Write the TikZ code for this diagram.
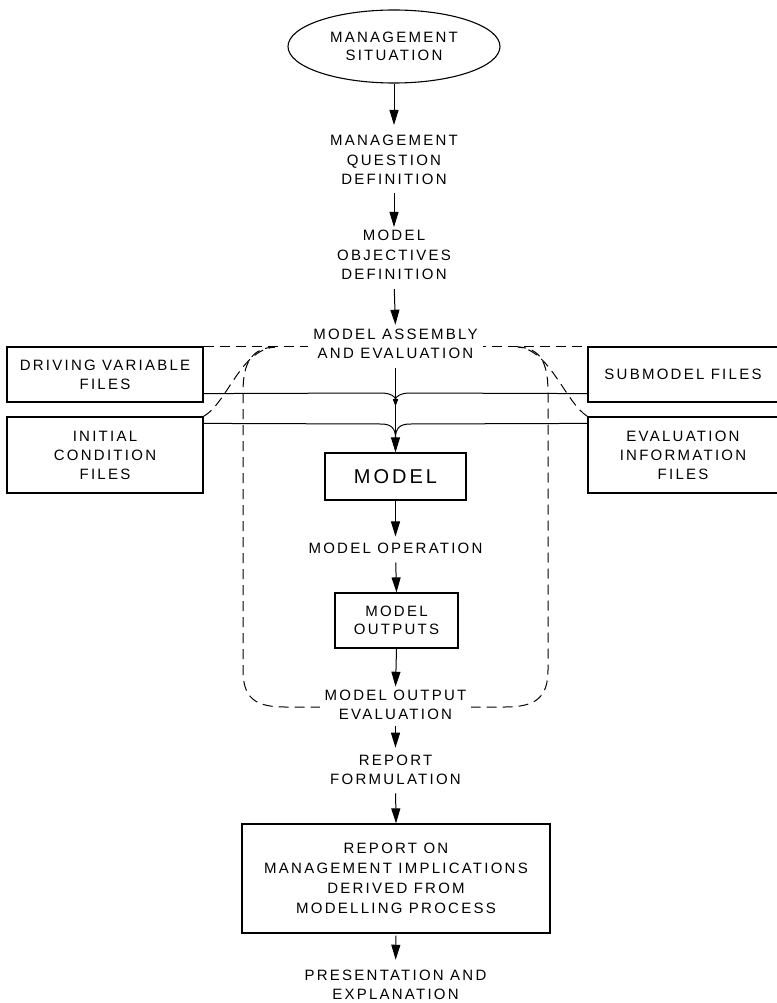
\documentclass[tikz,border=0pt]{standalone}
\usepackage{fontspec}
\setmainfont{Liberation Sans}[LetterSpace=15]
\usetikzlibrary{arrows.meta,shapes.geometric}
\pgfdeclarelayer{bg}
\pgfsetlayers{bg,main}
\tikzset{
  lbl/.style={align=center, inner sep=0pt, font=\fontsize{15}{19.5}\selectfont},
  filebox/.style={draw, line width=1.2pt, align=center, inner sep=0pt, font=\fontsize{15}{19}\selectfont},
  ell/.style={draw, ellipse, line width=1.1pt, align=center, inner sep=0pt, font=\fontsize{15}{18}\selectfont},
  arr/.style={line width=1pt, -{Triangle[length=15pt,width=9pt]}},
  feed/.style={line width=1pt},
  smalltip/.style={-{Triangle[length=7pt,width=5pt]}},
  dsh/.style={line width=1pt, dash pattern=on 10pt off 6pt},
}
\begin{document}
\begin{tikzpicture}[x=1pt,y=-1pt]
\useasboundingbox (0,0) rectangle (776,1003);
\node[ell, minimum width=212pt, minimum height=73pt] (sit) at (394,46.5) {MANAGEMENT\\SITUATION};
\node[lbl] (mq) at (394,160) {MANAGEMENT\\QUESTION\\DEFINITION};
\node[lbl] (mo) at (394,255) {MODEL\\OBJECTIVES\\DEFINITION};
\node[lbl, fill=white, inner xsep=5pt] (asm) at (395.5,344) {MODEL ASSEMBLY\\AND EVALUATION};
\node[filebox, minimum width=196pt, minimum height=55pt] (drv) at (105,374.5) {DRIVING VARIABLE\\FILES};
\node[filebox, minimum width=196pt, minimum height=76pt] (ini) at (105,455) {INITIAL\\CONDITION\\FILES};
\node[filebox, minimum width=190pt, minimum height=55pt] (sub) at (683,374.5) {SUBMODEL FILES};
\node[filebox, minimum width=190pt, minimum height=76pt] (evf) at (683,455) {EVALUATION\\INFORMATION\\FILES};
\node[filebox, minimum width=141pt, minimum height=47pt, font=\fontsize{20}{22}\selectfont] (mdl) at (395.5,476.5) {MODEL};
\node[lbl] (op) at (395.5,548) {MODEL OPERATION};
\node[filebox, minimum width=123pt, minimum height=55pt, font=\fontsize{15}{18}\selectfont] (out) at (396.5,620.5) {MODEL\\OUTPUTS};
\node[lbl, fill=white, inner xsep=5pt] (moe) at (395.5,705) {MODEL OUTPUT\\EVALUATION};
\node[lbl] (rf) at (395.5,770) {REPORT\\FORMULATION};
\node[filebox, minimum width=308pt, minimum height=109pt, font=\fontsize{15}{20}\selectfont] (rep) at (396,878.5) {REPORT ON\\MANAGEMENT IMPLICATIONS\\DERIVED FROM\\MODELLING PROCESS};
\node[lbl] (pe) at (395.5,985) {PRESENTATION AND\\EXPLANATION};

\coordinate (j1) at (395.5,406);
\coordinate (j2) at (395.5,438);

% main flow
\draw[arr, shorten >=10pt] (sit.south) -- (mq.north);
\draw[arr, shorten <=8pt, shorten >=3pt] (mq.south) -- (mo.north);
\draw[arr, shorten <=9pt, shorten >=4pt] (mo.south) -- (asm.north);
\draw[arr, shorten <=9pt] (asm.south) -- (mdl.north);
\draw[arr, shorten >=6pt] (mdl.south) -- (op.north);
\draw[arr, shorten <=9pt] (op.south) -- (out.north);
\draw[arr, shorten >=3pt] (out.south) -- (moe.north);
\draw[arr, shorten <=6pt, shorten >=7pt] (moe.south) -- (rf.north);
\draw[arr, shorten <=8pt] (rf.south) -- (rep.north);
\draw[arr, shorten <=2pt, shorten >=10pt] (rep.south) -- (pe.north);

% feed lines
\draw[feed, smalltip] ([yshift=9pt]drv.south east) -- (381,393) .. controls (391,393) and (395.5,397) .. (j1);
\draw[feed, smalltip] ([yshift=9pt]sub.south west) -- (410,393) .. controls (400,393) and (395.5,397) .. (j1);
\draw[feed] ([yshift=-7pt]ini.north east) -- (381,424) .. controls (391,424) and (395.5,428) .. (j2);
\draw[feed] ([yshift=-7pt]evf.north west) -- (410,424) .. controls (400,424) and (395.5,428) .. (j2);

% dashed boundaries
\begin{pgfonlayer}{bg}
\draw[dsh] (drv.north east) -- (sub.north west);
\draw[dsh] (ini.north east) .. controls (228,402) and (240,350) .. (275,347);
\draw[dsh] (evf.north west) .. controls (565,402) and (550,350) .. (518,347);
\draw[dsh] (275,347) .. controls (252,348) and (243,362) .. (243,392) -- (243,670)
  .. controls (243,698) and (255,707) .. (285,707) -- (505,707)
  .. controls (535,707) and (548,698) .. (548,670) -- (548,392)
  .. controls (548,362) and (540,348) .. (518,347);
\end{pgfonlayer}
\end{tikzpicture}
\end{document}
